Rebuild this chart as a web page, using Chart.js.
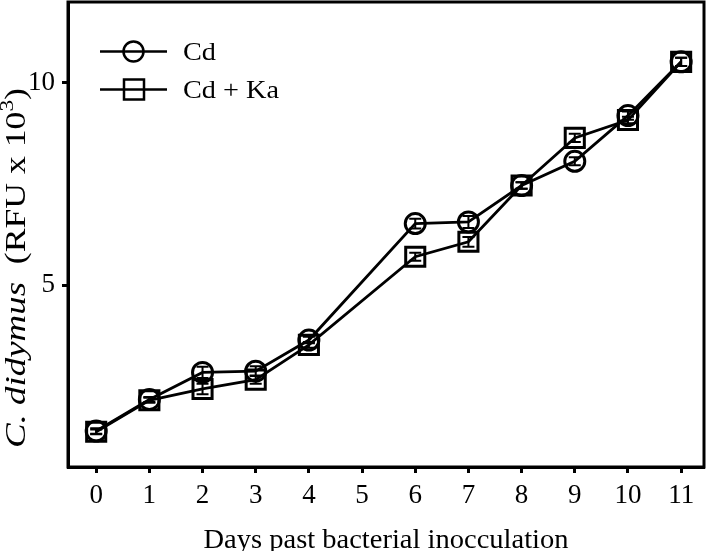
<!DOCTYPE html>
<html>
<head>
<meta charset="utf-8">
<script src="https://cdn.jsdelivr.net/npm/chart.js@4/dist/chart.umd.min.js"></script>
<style>
    html, body { margin: 0; padding: 0; background: #fff; }
</style>
</head>
<body>
<canvas id="grafico" width="709" height="551"></canvas>
<script>
// dias com medição (dia 5 sem dado)
var dias = [0, 1, 2, 3, 4, 6, 7, 8, 9, 10, 11];
var cd = [1.39, 2.17, 2.84, 2.87, 3.64, 6.52, 6.56, 7.46, 8.06, 9.19, 10.52];
var cdKa = [1.37, 2.15, 2.43, 2.66, 3.52, 5.70, 6.07, 7.46, 8.64, 9.08, 10.52];
var erroCd = [0.07, 0.06, 0.14, 0.12, 0.08, 0.12, 0.15, 0.08, 0.10, 0.10, 0.10];
var erroCdKa = [0.06, 0.06, 0.13, 0.10, 0.07, 0.10, 0.12, 0.08, 0.10, 0.08, 0.10];
var ticksX = [0, 1, 2, 3, 4, 5, 6, 7, 8, 9, 10, 11];
var ticksY = [5, 10];
var nomesSeries = ['Cd', 'Cd + Ka'];

var fonte = "'Liberation Serif', 'Times New Roman', serif";

function pontos(valores) {
    return dias.map(function (d, i) { return { x: d, y: valores[i] }; });
}

function semPadding(s) {
    s.paddingTop = 0;
    s.paddingBottom = 0;
    s.paddingLeft = 0;
    s.paddingRight = 0;
}

// barras de erro pequenas (ficam dentro dos marcadores)
const barrasErro = {
    id: 'barrasErro',
    afterDatasetsDraw(chart) {
        const ctx = chart.ctx;
        const y = chart.scales.y;
        const erros = [erroCd, erroCdKa];
        ctx.save();
        ctx.strokeStyle = '#000';
        ctx.lineWidth = 2;
        chart.data.datasets.forEach(function (ds, k) {
            const meta = chart.getDatasetMeta(k);
            meta.data.forEach(function (p, i) {
                const v = ds.data[i].y;
                const yA = y.getPixelForValue(v + erros[k][i]);
                const yB = y.getPixelForValue(v - erros[k][i]);
                ctx.beginPath();
                ctx.moveTo(p.x, yA); ctx.lineTo(p.x, yB);
                ctx.moveTo(p.x - 6, yA); ctx.lineTo(p.x + 6, yA);
                ctx.moveTo(p.x - 6, yB); ctx.lineTo(p.x + 6, yB);
                ctx.stroke();
            });
        });
        ctx.restore();
    }
};

// caixa, títulos e legenda desenhados à mão
const moldura = {
    id: 'moldura',
    afterDraw(chart) {
        const ctx = chart.ctx;
        const a = chart.chartArea;
        ctx.save();
        ctx.strokeStyle = '#000';
        ctx.lineWidth = 3;
        ctx.strokeRect(a.left, a.top, a.right - a.left, a.bottom - a.top);

        ctx.fillStyle = '#000';
        ctx.textBaseline = 'alphabetic';

        // título do eixo x
        ctx.font = '28px ' + fonte;
        var tx = 'Days past bacterial inocculation';
        var w = ctx.measureText(tx).width;
        var sx = 365 / w;
        ctx.save();
        ctx.translate((a.left + a.right) / 2, 548);
        ctx.scale(sx, 1);
        ctx.textAlign = 'center';
        ctx.fillText(tx, 0, 0);
        ctx.restore();

        // título do eixo y
        var partes = [
            { t: 'C. didymus', f: 'italic 30px ' + fonte, dy: 0 },
            { t: '  (RFU x 10', f: '29px ' + fonte, dy: 0 },
            { t: '3', f: '19px ' + fonte, dy: -12 },
            { t: ')', f: '29px ' + fonte, dy: 0 }
        ];
        var total = 0;
        partes.forEach(function (p) { ctx.font = p.f; p.w = ctx.measureText(p.t).width; total += p.w; });
        ctx.save();
        ctx.translate(25, 268);
        ctx.rotate(-Math.PI / 2);
        ctx.scale(360 / total, 1);
        ctx.textAlign = 'left';
        var cx = -total / 2;
        partes.forEach(function (p) {
            ctx.font = p.f;
            ctx.fillText(p.t, cx, p.dy);
            cx += p.w;
        });
        ctx.restore();

        // legenda
        ctx.lineWidth = 2.5;
        var linhas = [51.5, 89.5];
        linhas.forEach(function (ly, k) {
            ctx.beginPath();
            ctx.moveTo(100, ly); ctx.lineTo(167, ly);
            ctx.stroke();
            ctx.beginPath();
            if (k == 0) {
                ctx.arc(133.5, ly, 10, 0, Math.PI * 2);
            } else {
                ctx.rect(124, ly - 10, 20, 20);
            }
            ctx.stroke();
        });
        ctx.font = '26px ' + fonte;
        var sl = 96 / ctx.measureText(nomesSeries[1]).width;
        nomesSeries.forEach(function (nome, k) {
            ctx.save();
            ctx.translate(183, linhas[k] + 8);
            ctx.scale(sl, 1);
            ctx.textAlign = 'left';
            ctx.fillText(nome, 0, 0);
            ctx.restore();
        });
        ctx.restore();
    }
};

const config = {
    type: 'line',
    data: {
        datasets: [
            {
                label: nomesSeries[0],
                data: pontos(cd),
                borderColor: '#000',
                borderWidth: 2.8,
                pointStyle: 'circle',
                pointRadius: 10,
                pointBorderWidth: 3,
                pointBorderColor: '#000',
                pointBackgroundColor: 'rgba(0,0,0,0)',
                tension: 0
            },
            {
                label: nomesSeries[1],
                data: pontos(cdKa),
                borderColor: '#000',
                borderWidth: 2.8,
                pointStyle: 'rect',
                pointRadius: 13.5,
                pointBorderWidth: 3,
                pointBorderColor: '#000',
                pointBackgroundColor: 'rgba(0,0,0,0)',
                tension: 0
            }
        ]
    },
    options: {
        responsive: false,
        animation: false,
        devicePixelRatio: 1,
        layout: { autoPadding: false, padding: { top: 2, right: 5, left: 0, bottom: 0 } },
        plugins: {
            legend: { display: false },
            tooltip: { enabled: false }
        },
        scales: {
            x: {
                type: 'linear',
                min: -0.53,
                max: 11.43,
                afterBuildTicks: function (s) { s.ticks = ticksX.map(function (v) { return { value: v }; }); },
                afterFit: function (s) { s.height = 84; semPadding(s); },
                grid: { display: true, drawOnChartArea: false, drawTicks: true, tickLength: 6, tickWidth: 3, color: '#000' },
                border: { display: true, width: 3, color: '#000' },
                ticks: { font: { family: fonte, size: 27 }, color: '#000', padding: 7, maxRotation: 0, autoSkip: false }
            },
            y: {
                min: 0.5,
                max: 12,
                afterBuildTicks: function (s) { s.ticks = ticksY.map(function (v) { return { value: v }; }); },
                afterFit: function (s) { s.width = 68; semPadding(s); },
                grid: { display: true, drawOnChartArea: false, drawTicks: true, tickLength: 6, tickWidth: 3, color: '#000' },
                border: { display: true, width: 3, color: '#000' },
                ticks: { font: { family: fonte, size: 27 }, color: '#000', padding: 7 }
            }
        }
    },
    plugins: [barrasErro, moldura]
};

new Chart(document.getElementById('grafico'), config);
</script>
</body>
</html>
